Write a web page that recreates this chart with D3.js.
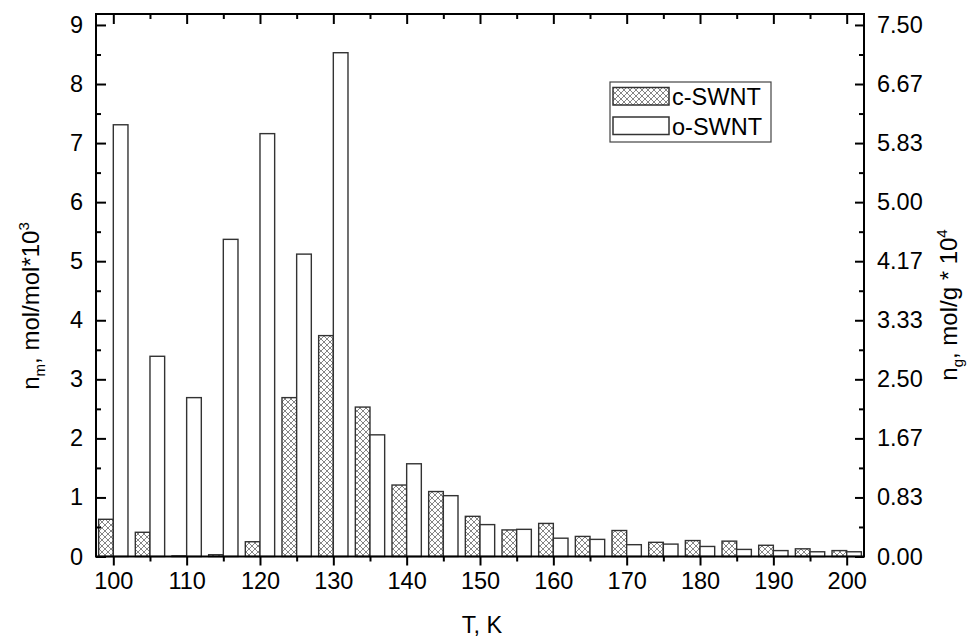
<!DOCTYPE html>
<html>
<head>
<meta charset="utf-8">
<script src="https://cdn.jsdelivr.net/npm/d3@7"></script>
<style>
  body { margin: 0; background: #fff; }
  svg text { font-family: "Liberation Sans", Arial, sans-serif; fill: #000; }
</style>
</head>
<body>
<div id="chart"></div>
<script>
// temperatures, K
var temps = [100, 105, 110, 115, 120, 125, 130, 135, 140, 145, 150, 155, 160, 165, 170, 175, 180, 185, 190, 195, 200];
// n_m, mol/mol*10^3
var cSWNT = [0.63, 0.41, 0.01, 0.03, 0.25, 2.69, 3.74, 2.53, 1.21, 1.10, 0.68, 0.45, 0.56, 0.34, 0.44, 0.24, 0.27, 0.26, 0.19, 0.13, 0.10];
var oSWNT = [7.31, 3.39, 2.69, 5.37, 7.16, 5.12, 8.53, 2.06, 1.57, 1.03, 0.54, 0.46, 0.31, 0.29, 0.20, 0.21, 0.17, 0.12, 0.10, 0.08, 0.08];
var seriesNames = ["c-SWNT", "o-SWNT"];
var xTicks = [100, 110, 120, 130, 140, 150, 160, 170, 180, 190, 200];
var leftTicks = [0, 1, 2, 3, 4, 5, 6, 7, 8, 9];
var rightTickLabels = ["0.00", "0.83", "1.67", "2.50", "3.33", "4.17", "5.00", "5.83", "6.67", "7.50"];

var width = 971, height = 637;
var pLeft = 96, pRight = 864, pTop = 14, pBottom = 556.5;
var barW = 2; // K

var svg = d3.select("#chart").append("svg")
  .attr("width", width)
  .attr("height", height);

var defs = svg.append("defs");
var pat = defs.append("pattern")
  .attr("id", "hatch")
  .attr("patternUnits", "userSpaceOnUse")
  .attr("width", 6)
  .attr("height", 6);
pat.append("rect").attr("width", 6).attr("height", 6).attr("fill", "#fff");
pat.append("path").attr("d", "M0,0L6,6M6,0L0,6M-1,5L1,7M5,-1L7,1M-1,1L1,-1M5,7L7,5")
  .attr("stroke", "#666").attr("stroke-width", 0.8);

var x = d3.scaleLinear().domain([97.64, 202.36]).range([pLeft, pRight]);
var y = d3.scaleLinear().domain([0, (pBottom - pTop) / 59.06]).range([pBottom, pTop]);
var yR = d3.scaleLinear().domain([0, y.domain()[1] * 7.5 / 9]).range([pBottom, pTop]);

var rows = temps.map(function(t, i) { return {t: t, c: cSWNT[i], o: oSWNT[i]}; });

// bars
var g = svg.append("g");
g.selectAll("rect.c").data(rows).enter().append("rect")
  .attr("class", "c")
  .attr("x", d => x(d.t - barW))
  .attr("width", d => x(d.t) - x(d.t - barW))
  .attr("y", d => y(d.c))
  .attr("height", d => y(0) - y(d.c))
  .attr("fill", "url(#hatch)")
  .attr("stroke", "#333")
  .attr("stroke-width", 1.4);
g.selectAll("rect.o").data(rows).enter().append("rect")
  .attr("class", "o")
  .attr("x", d => x(d.t))
  .attr("width", d => x(d.t + barW) - x(d.t))
  .attr("y", d => y(d.o))
  .attr("height", d => y(0) - y(d.o))
  .attr("fill", "#fff")
  .attr("stroke", "#333")
  .attr("stroke-width", 1.4);

// axes
var minorX = d3.range(105, 200, 10);
var minorY = d3.range(0.5, 9.1, 1);

function styleAxis(sel) {
  sel.select(".domain").remove();
  sel.selectAll("line").attr("stroke", "#000").attr("stroke-width", 2);
  sel.selectAll("text").style("font-size", "23.5px").attr("fill", "#000");
}

svg.append("g").attr("transform", "translate(0," + pBottom + ")")
  .call(d3.axisBottom(x).tickValues(xTicks).tickSize(9).tickPadding(7).tickFormat(d3.format("d")))
  .call(styleAxis);
svg.append("g").attr("transform", "translate(0," + pBottom + ")")
  .call(d3.axisBottom(x).tickValues(minorX).tickSize(5).tickFormat(""))
  .call(styleAxis);
svg.append("g").attr("transform", "translate(0," + pTop + ")")
  .call(d3.axisTop(x).tickValues(xTicks).tickSize(-10).tickFormat(""))
  .call(styleAxis);
svg.append("g").attr("transform", "translate(0," + pTop + ")")
  .call(d3.axisTop(x).tickValues(minorX).tickSize(-5).tickFormat(""))
  .call(styleAxis);

svg.append("g").attr("transform", "translate(" + pLeft + ",0)")
  .call(d3.axisLeft(y).tickValues(leftTicks).tickSizeInner(-10).tickPadding(13).tickFormat(d3.format("d")))
  .call(styleAxis);
svg.append("g").attr("transform", "translate(" + pLeft + ",0)")
  .call(d3.axisLeft(y).tickValues(minorY).tickSize(-5).tickFormat(""))
  .call(styleAxis);

svg.append("g").attr("transform", "translate(" + pRight + ",0)")
  .call(d3.axisRight(yR).tickValues(leftTicks.map(v => v * 7.5 / 9)).tickSizeInner(-9).tickPadding(13)
    .tickFormat((d, i) => rightTickLabels[i]))
  .call(styleAxis);
svg.append("g").attr("transform", "translate(" + pRight + ",0)")
  .call(d3.axisRight(yR).tickValues(minorY.map(v => v * 7.5 / 9)).tickSize(-5).tickFormat(""))
  .call(styleAxis);

// frame
svg.append("rect")
  .attr("x", pLeft).attr("y", pTop)
  .attr("width", pRight - pLeft).attr("height", pBottom - pTop)
  .attr("fill", "none").attr("stroke", "#000").attr("stroke-width", 2);

// titles
svg.append("text")
  .attr("x", (pLeft + pRight) / 2 + 2).attr("y", 633)
  .attr("text-anchor", "middle")
  .style("font-size", "23.5px")
  .text("T, K");

var lt = svg.append("text")
  .attr("transform", "translate(39,306) rotate(-90)")
  .attr("text-anchor", "middle")
  .style("font-size", "24px");
lt.append("tspan").text("n");
lt.append("tspan").attr("dy", 6).style("font-size", "15px").text("m");
lt.append("tspan").attr("dy", -6).text(", mol/mol*10");
lt.append("tspan").attr("dy", -10).style("font-size", "15px").text("3");

var rt = svg.append("text")
  .attr("transform", "translate(957,305) rotate(-90)")
  .attr("text-anchor", "middle")
  .style("font-size", "24px");
rt.append("tspan").text("n");
rt.append("tspan").attr("dy", 6).style("font-size", "15px").text("g");
rt.append("tspan").attr("dy", -6).text(", mol/g * 10");
rt.append("tspan").attr("dy", -10).style("font-size", "15px").text("4");

// legend
var lg = svg.append("g");
lg.append("rect")
  .attr("x", 610).attr("y", 82).attr("width", 161).attr("height", 60)
  .attr("fill", "#fff").attr("stroke", "#444").attr("stroke-width", 1.2);
seriesNames.forEach(function(name, i) {
  lg.append("rect")
    .attr("x", 613).attr("y", 87.5 + i * 29.5).attr("width", 56).attr("height", 17.5)
    .attr("fill", i === 0 ? "url(#hatch)" : "#fff")
    .attr("stroke", "#333").attr("stroke-width", 1.5);
  lg.append("text")
    .attr("x", 672).attr("y", 105 + i * 29.5)
    .style("font-size", "23.5px")
    .text(name);
});
</script>
</body>
</html>
